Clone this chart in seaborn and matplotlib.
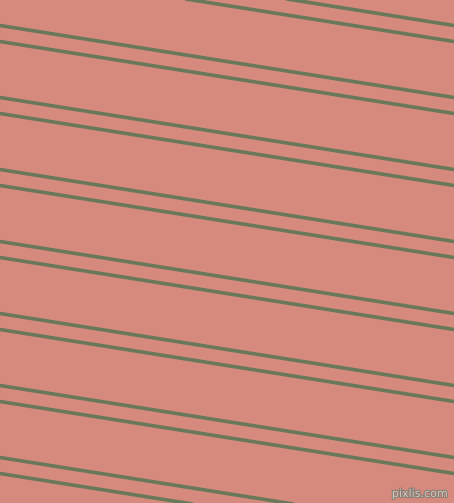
import matplotlib
matplotlib.use("Agg")
import matplotlib.pyplot as plt
import matplotlib.patheffects as pe
import seaborn as sns
import pandas as pd

# ---- data ----
x_edges = [0, 454]
left_y = [-46.5, -30.5, 25.5, 41.5, 97.5, 113.5, 169.5, 185.5,
          241.5, 257.5, 313.5, 329.5, 385.5, 401.5, 457.5, 473.5]
right_y = [25.5, 41.5, 97.5, 113.5, 169.5, 185.5, 241.5, 257.5,
           313.5, 329.5, 385.5, 401.5, 457.5, 473.5, 529.5, 545.5]
watermark = "pixlis.com"

bg_color = "#D68A7E"
line_color = "#6A785A"

rows = []
for i, (ly, ry) in enumerate(zip(left_y, right_y)):
    rows.append({"line": i, "x": x_edges[0], "y": ly})
    rows.append({"line": i, "x": x_edges[1], "y": ry})
df = pd.DataFrame(rows)

sns.set_style("white")
fig = plt.figure(figsize=(4.54, 5.03), dpi=100)
ax = fig.add_axes([0, 0, 1, 1])
ax.set_facecolor(bg_color)
fig.patch.set_facecolor(bg_color)

sns.lineplot(data=df, x="x", y="y", units="line", estimator=None,
             color=line_color, linewidth=2.6, ax=ax, legend=False)

ax.set_xlim(0, 454)
ax.set_ylim(503, 0)
ax.axis("off")

ax.text(448, 497, watermark, ha="right", va="baseline", fontsize=8,
        color="#CFC8BE", family="DejaVu Sans",
        path_effects=[pe.withStroke(linewidth=1.6, foreground="#8C7E74")])

fig.savefig("out.png", dpi=100, facecolor=bg_color)
